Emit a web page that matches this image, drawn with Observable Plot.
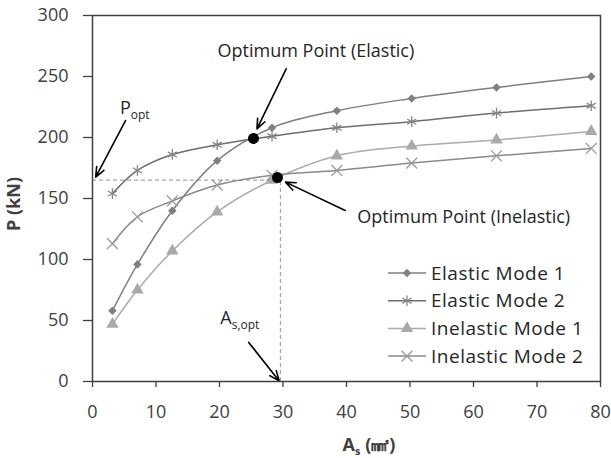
<!DOCTYPE html>
<html><head><meta charset="utf-8">
<script src="https://cdn.jsdelivr.net/npm/d3@7"></script>
<script src="https://cdn.jsdelivr.net/npm/@observablehq/plot@0.6"></script>
<style>body{margin:0;background:#fff} svg{display:block}</style>
</head><body><div id="chart"></div>
<script>
// ---- data ----
const areas = [3.14, 7.07, 12.57, 19.63, 28.27, 38.48, 50.27, 63.62, 78.54];
const elastic1 = [58, 96, 140, 181, 208, 222, 232, 241, 250];
const elastic2 = [154, 173, 186, 194, 201, 208, 213, 220, 226];
const inelastic1 = [47, 75, 107, 139, 165, 185, 193, 198, 205];
const inelastic2 = [113, 135, 148, 161, 169, 173, 179, 185, 191];
const seriesNames = ["Elastic Mode 1", "Elastic Mode 2", "Inelastic Mode 1", "Inelastic Mode 2"];
const xTicks = [0, 10, 20, 30, 40, 50, 60, 70, 80];
const yTicks = [0, 50, 100, 150, 200, 250, 300];
const optimumX = [25.35, 29.13];
const optimumY = [199.2, 167.2];
const pOpt = 165;
const asOpt = 29.6;
const annotationLabels = ["Optimum Point (Elastic)", "Optimum Point (Inelastic)"];
const annotationX = [19.7, 41.7];
const annotationY = [271, 134.4];
const arrowX1 = [30.5, 5.2, 39.8, 24.6];
const arrowY1 = [256.3, 213.9, 140.2, 32];
const arrowX2 = [25.9, 0.5, 30.4, 29.4];
const arrowY2 = [207.1, 167.5, 163.4, 0.5];

// ---- styles ----
const colors = ["#7f7f7f", "#6e6e6e", "#ababab", "#8a8a8a"];
const markColors = ["#808080", "#858585", "#a9a9a9", "#9a9a9a"];
const FONT = "'Open Sans', sans-serif";

const seriesValues = [elastic1, elastic2, inelastic1, inelastic2];
const rowsOf = (vals) => areas.map((a, i) => ({x: a, y: vals[i]}));
const seriesRows = seriesValues.map(rowsOf);
const optRows = optimumX.map((x, i) => ({x, y: optimumY[i]}));
const annRows = annotationLabels.map((t, i) => ({t, x: annotationX[i], y: annotationY[i]}));
const arrowRows = arrowX1.map((x1, i) => ({x1, y1: arrowY1[i], x2: arrowX2[i], y2: arrowY2[i]}));

const dotOpts = [
  {symbol: "square", rotate: 45, r: 3.4, fill: markColors[0]},
  {symbol: "asterisk", r: 5, stroke: markColors[1], strokeWidth: 1.3, fill: "none"},
  {symbol: "triangle", r: 4.6, fill: markColors[2]},
  {symbol: "times", r: 5, stroke: markColors[3], strokeWidth: 1.3, fill: "none"}
];

const plot = Plot.plot({
  width: 611, height: 458,
  marginLeft: 92, marginRight: 11, marginTop: 15, marginBottom: 77,
  style: {fontFamily: FONT, fontSize: "18px", color: "#404040", background: "#fff", overflow: "visible"},
  x: {domain: [0, 80]},
  y: {domain: [0, 300]},
  marks: [
    Plot.ruleY([pOpt], {x1: 0, x2: asOpt, stroke: "#a8a8a8", strokeWidth: 1.3, strokeDasharray: "4,3"}),
    Plot.ruleX([asOpt], {y1: 0, y2: pOpt, stroke: "#a8a8a8", strokeWidth: 1.3, strokeDasharray: "4,3"}),
    ...seriesRows.map((rows, k) => Plot.line(rows, {x: "x", y: "y", stroke: colors[k], strokeWidth: 1.5, curve: "catmull-rom"})),
    ...seriesRows.map((rows, k) => Plot.dot(rows, {x: "x", y: "y", ...dotOpts[k]})),
    Plot.dot(optRows, {x: "x", y: "y", r: 5.5, fill: "#000"}),
    Plot.arrow(arrowRows, {x1: "x1", y1: "y1", x2: "x2", y2: "y2", stroke: "#000", strokeWidth: 1.6, headLength: 10, headAngle: 45}),
    Plot.text(annRows, {x: "x", y: "y", text: "t", textAnchor: "start", lineAnchor: "middle", fill: "#262626", fontSize: 18, letterSpacing: 0.3}),
    Plot.frame({stroke: "#404040", strokeWidth: 1.5}),
    Plot.axisX({ticks: xTicks, tickSize: 6, tickPadding: 18, label: null, color: "#404040", fontSize: 18, strokeWidth: 1.3}),
    Plot.axisY({ticks: yTicks, tickSize: 9, tickPadding: 15, label: null, color: "#404040", fontSize: 18, strokeWidth: 1.3})
  ]
});

document.getElementById("chart").appendChild(plot);
const svg = d3.select(plot);
const sx = plot.scale("x"), sy = plot.scale("y");

// subscript annotations
function subText(x, y, main, sub) {
  const t = svg.append("text")
    .attr("x", sx.apply(x)).attr("y", sy.apply(y))
    .attr("dy", "0.35em").attr("text-anchor", "start")
    .attr("font-family", FONT).attr("font-size", 18).attr("fill", "#262626");
  t.append("tspan").text(main);
  t.append("tspan").attr("font-size", 12).attr("dy", 5).text(sub);
}
subText(4.4, 224, "P", "opt");
subText(20.2, 52, "A", "s,opt");

// legend
const legY0 = 273, legStep = 27.7;
const symMap = {square: d3.symbolSquare, asterisk: d3.symbolAsterisk, triangle: d3.symbolTriangle, times: d3.symbolTimes};
seriesNames.forEach((name, k) => {
  const g = svg.append("g").attr("transform", `translate(0,${legY0 + k * legStep})`);
  g.append("line").attr("x1", 388).attr("x2", 426).attr("y1", 0).attr("y2", 0)
    .attr("stroke", colors[k]).attr("stroke-width", 1.5);
  const o = dotOpts[k];
  g.append("path")
    .attr("d", d3.symbol(symMap[o.symbol], Math.PI * o.r * o.r)())
    .attr("transform", `translate(407,0) rotate(${o.rotate || 0})`)
    .attr("fill", o.fill).attr("stroke", o.stroke || "none").attr("stroke-width", o.strokeWidth || 0);
  g.append("text").attr("x", 431).attr("y", 0).attr("dy", "0.35em").attr("text-anchor", "start")
    .attr("font-family", FONT).attr("font-size", 19).attr("letter-spacing", 0.5)
    .attr("fill", "#262626").text(name);
});

// axis titles
const xl = svg.append("text").attr("x", 369).attr("y", 445).attr("dy", "0.35em")
  .attr("text-anchor", "middle").attr("font-family", FONT).attr("font-size", 18)
  .attr("font-weight", "bold").attr("fill", "#404040");
xl.append("tspan").text("A");
xl.append("tspan").attr("font-size", 11).attr("dy", 4).text("s");
xl.append("tspan").attr("dy", -4).text(" (㎟)");

svg.append("text").attr("transform", "translate(14,204) rotate(-90)").attr("dy", "0.35em")
  .attr("text-anchor", "middle").attr("font-family", FONT).attr("font-size", 18)
  .attr("font-weight", "bold").attr("fill", "#404040").text("P (kN)");
</script></body></html>
